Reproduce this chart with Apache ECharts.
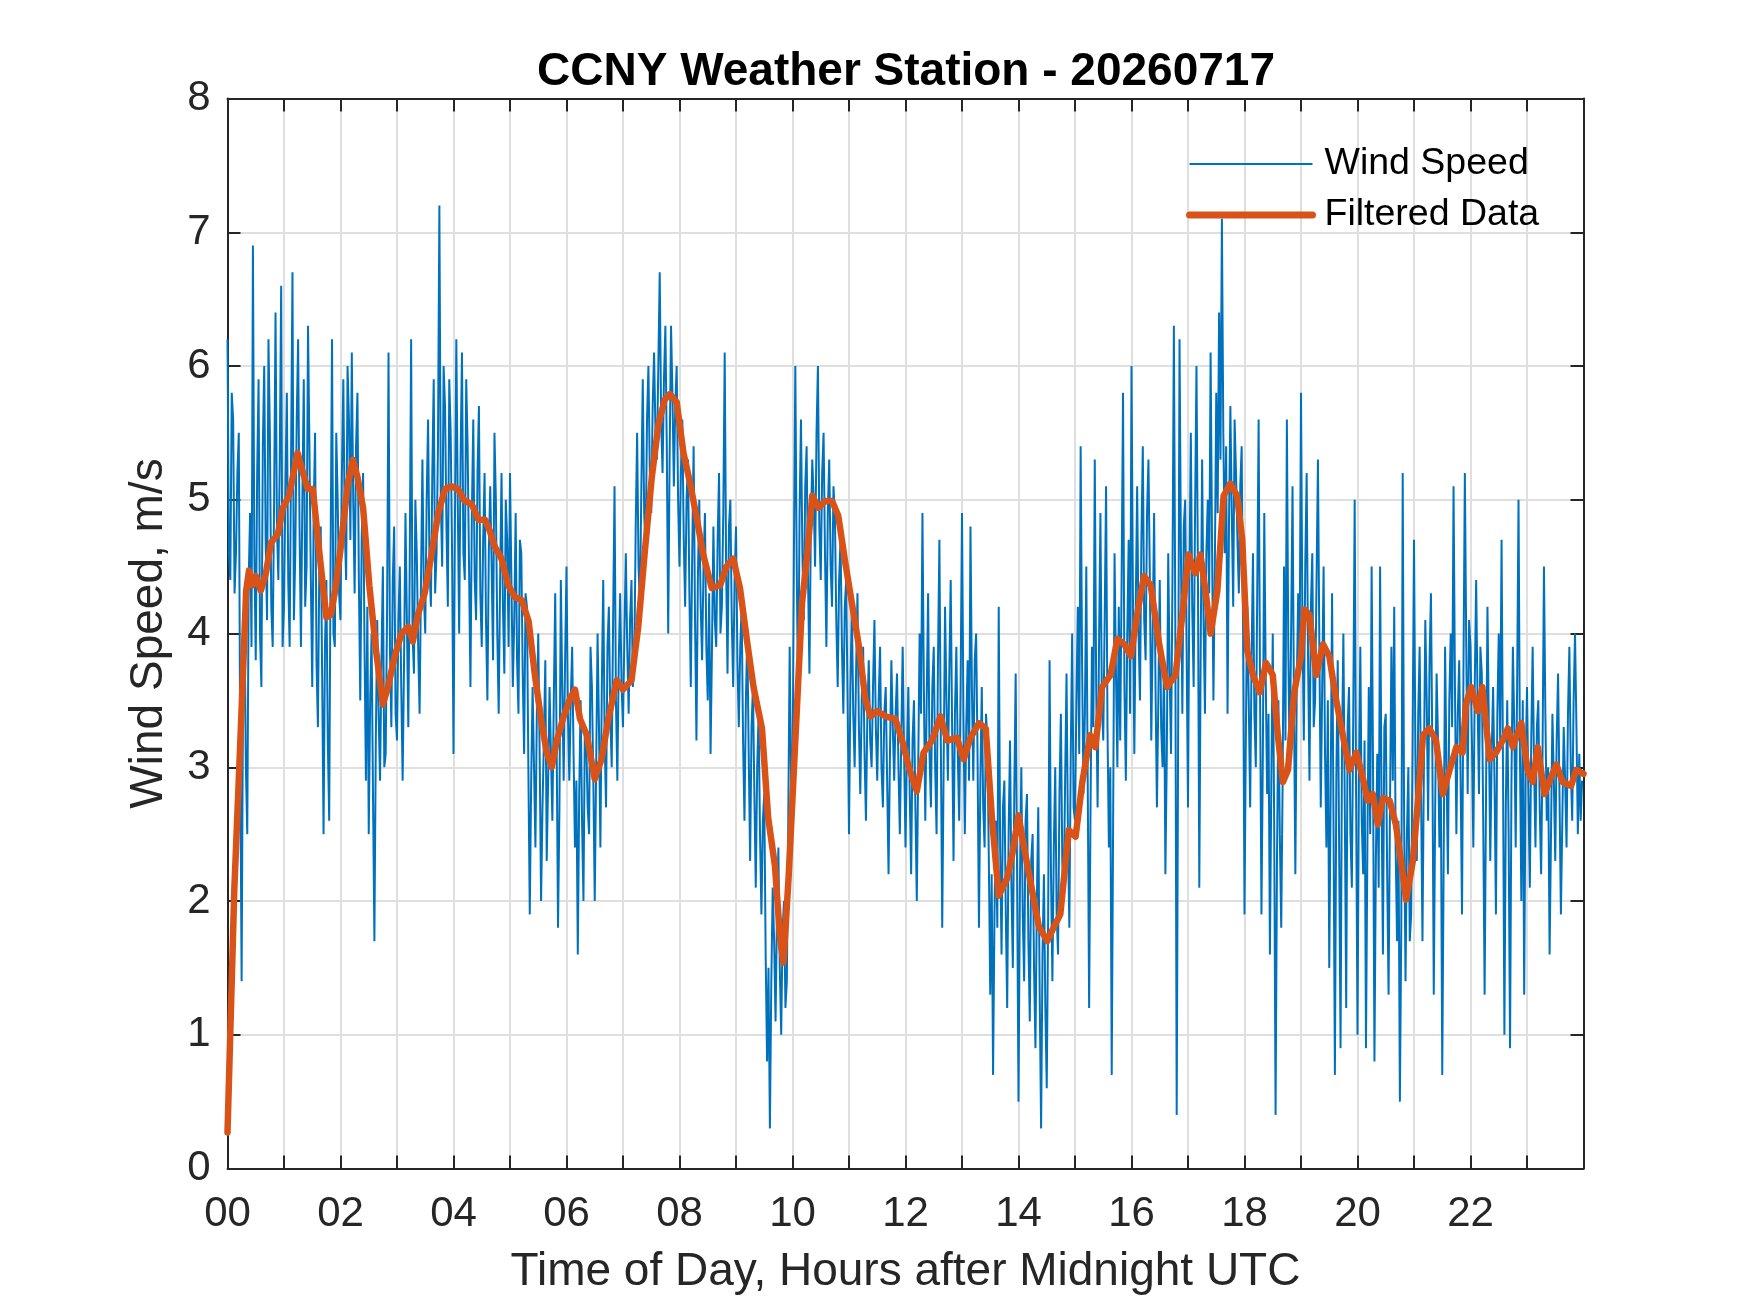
<!DOCTYPE html>
<html>
<head>
<meta charset="utf-8">
<title>CCNY Weather Station - 20260717</title>
<script src="https://cdn.jsdelivr.net/npm/echarts@6/dist/echarts.min.js"></script>
<style>
  html, body { margin: 0; padding: 0; background: #fff; }
  #chart { width: 1750px; height: 1313px; }
</style>
</head>
<body>
<div id="chart"></div>
<script>
// wind speed samples, m/s, one every 1.5 minutes (40 per hour, one row per hour)
var sampleStep = 0.025; // hours
var windSpeed = [
  6.2,4.6, 4.4,5.8, 5.6,4.3, 4.6,5.2, 5.5,3.1, 1.4,3.6, 4.2,3.0, 2.5,4.4, 4.9,3.9, 6.9,4.6, 3.8,5.2, 5.9,4.0, 3.6,5.4, 6.0,4.7, 4.1,6.2, 5.5,4.2, 3.9,5.0, 6.4,4.8, 4.4,5.3, 6.6,3.9,
  4.2,5.1, 5.8,4.4, 3.9,5.3, 6.7,4.1, 4.6,5.6, 6.2,4.8, 3.9,5.0, 5.9,4.2, 4.5,6.3, 5.4,4.4, 3.6,4.9, 5.5,3.8, 3.3,4.5, 4.8,3.7, 2.5,3.9, 4.4,3.2, 2.6,4.6, 6.2,4.0, 3.9,5.5, 5.0,4.3,
  4.1,5.2, 5.9,4.8, 4.4,6.0, 5.6,4.7, 6.1,5.0, 4.3,5.4, 5.8,4.4, 3.5,4.7, 5.2,3.9, 2.9,4.2, 2.5,3.5, 4.0,2.8, 1.7,3.2, 4.1,3.4, 2.9,3.8, 4.5,3.0, 3.1,4.2, 6.1,3.9, 3.3,4.4, 4.8,3.4,
  3.2,4.1, 4.5,3.6, 2.9,3.8, 4.9,4.1, 3.3,4.5, 6.2,4.0, 3.7,5.0, 4.6,3.9, 3.4,4.4, 5.3,4.3, 4.0,5.0, 5.6,4.5, 4.2,5.2, 5.9,4.3, 4.6,5.4, 7.2,5.0, 4.5,6.0, 5.7,4.8, 4.2,5.9, 5.5,4.6,
  3.1,4.8, 6.2,5.0, 4.0,5.3, 6.1,4.6, 4.4,5.9, 5.4,4.5, 3.6,4.9, 5.6,4.4, 4.1,5.2, 5.7,4.3, 3.9,4.7, 5.2,4.1, 3.5,4.6, 5.1,4.5, 3.8,5.5, 5.0,4.0, 3.4,4.4, 5.2,4.2, 3.7,5.0, 4.7,3.9,
  5.2,4.4, 3.6,4.1, 4.9,3.8, 3.4,4.7, 4.6,3.7, 3.1,4.3, 4.2,3.0, 1.9,2.9, 3.6,3.0, 2.4,3.4, 4.0,3.1, 2.0,2.7, 3.2,3.8, 2.3,2.9, 3.6,3.1, 2.6,3.5, 4.3,3.2, 1.8,2.7, 4.4,3.6, 2.9,3.8,
  4.5,3.4, 2.9,3.5, 3.9,3.1, 2.4,2.9, 1.6,2.8, 3.5,2.6, 2.0,3.3, 3.2,2.7, 2.5,3.9, 3.6,2.9, 2.0,3.0, 4.0,3.3, 2.4,3.6, 4.4,3.2, 2.7,3.9, 4.2,3.4, 3.0,4.1, 5.1,3.5, 2.9,3.8, 4.3,3.6,
  3.3,4.0, 4.6,3.9, 3.4,4.1, 4.4,3.6, 3.8,4.8, 5.5,4.5, 4.2,5.1, 5.9,4.9, 4.6,5.6, 6.0,5.2, 4.9,5.7, 6.1,5.5, 5.3,6.0, 6.7,5.6, 5.2,5.9, 6.3,5.4, 4.0,5.3, 6.3,5.8, 5.1,5.7, 6.0,5.0,
  4.5,5.2, 5.6,4.7, 4.2,5.0, 5.3,4.3, 3.6,4.6, 5.4,4.1, 3.2,4.4, 5.0,4.2, 3.8,4.5, 4.9,3.9, 3.5,4.3, 3.1,3.9, 4.8,4.1, 3.9,4.7, 5.2,4.0, 4.2,4.9, 6.1,4.5, 3.7,4.8, 5.0,4.1, 3.6,4.4,
  4.8,3.8, 3.3,3.9, 4.2,3.2, 2.6,3.5, 4.0,3.1, 2.3,3.3, 3.6,2.8, 2.1,3.0, 3.4,2.5, 1.9,2.6, 2.8,1.6, 0.8,1.5, 0.3,1.4, 2.1,1.7, 1.1,1.9, 2.4,1.5, 1.0,1.8, 2.0,1.2, 1.4,2.6, 3.9,2.9,
  2.8,4.6, 6.0,4.5, 3.4,4.9, 5.6,4.6, 4.1,5.1, 5.4,4.4, 3.7,4.8, 5.3,5.0, 4.5,5.5, 6.0,4.8, 4.4,5.2, 5.5,4.6, 3.9,4.9, 5.3,4.5, 4.2,5.1, 4.9,4.1, 3.6,4.4, 4.7,3.9, 3.4,4.2, 4.4,3.5,
  2.5,3.6, 4.2,3.4, 3.0,3.7, 4.3,3.3, 2.8,3.5, 3.9,3.1, 2.6,3.4, 3.8,3.2, 3.0,3.6, 4.1,3.3, 2.9,3.5, 3.9,3.0, 2.7,3.4, 3.6,2.9, 2.2,3.1, 3.8,3.3, 2.9,3.4, 3.7,3.0, 2.5,3.2, 3.9,3.1,
  2.4,3.1, 3.6,2.8, 2.2,3.2, 3.5,2.7, 2.0,3.0, 4.0,3.4, 4.9,3.6, 2.6,3.5, 4.3,3.1, 2.7,3.6, 3.9,3.0, 2.5,3.8, 4.7,3.2, 1.8,3.0, 4.2,3.5, 2.9,3.7, 4.4,3.3, 2.3,3.4, 3.9,3.1, 2.6,3.6,
  4.9,3.4, 2.5,3.3, 3.8,2.9, 4.8,3.6, 2.9,3.8, 4.0,3.1, 1.8,2.9, 3.6,2.7, 2.4,3.4, 3.2,2.3, 1.3,2.2, 0.7,1.9, 2.6,1.8, 4.2,2.4, 1.6,2.7, 2.9,1.9, 1.2,2.5, 3.2,2.1, 1.5,2.8, 3.7,2.2,
  0.5,2.1, 3.0,1.9, 1.4,2.6, 2.8,1.7, 1.1,2.3, 2.5,1.5, 0.9,2.0, 2.7,1.3, 0.3,1.6, 2.2,1.2, 0.6,1.9, 3.8,2.2, 1.4,2.4, 3.0,1.9, 1.6,2.8, 3.4,2.3, 2.0,2.9, 3.7,2.5, 1.8,3.1, 4.0,2.7,
  2.6,3.5, 4.2,3.1, 5.4,3.8, 2.8,3.4, 4.5,2.9, 1.2,2.7, 3.9,3.3, 5.3,3.6, 2.7,3.9, 4.9,3.5, 3.2,4.1, 5.1,3.3, 2.4,3.0, 0.7,2.6, 4.6,3.7, 3.0,4.2, 3.2,4.4, 5.8,3.6, 2.9,4.0, 4.7,3.4,
  6.0,4.3, 3.1,4.2, 5.1,4.0, 3.5,4.7, 5.4,4.1, 3.8,4.9, 5.3,4.4, 3.2,4.0, 4.9,3.6, 2.7,3.5, 4.4,3.3, 3.0,3.8, 2.2,3.1, 4.6,3.7, 3.1,4.4, 6.3,4.1, 0.4,3.2, 6.2,4.6, 3.4,4.8, 5.0,3.9,
  2.7,4.4, 5.5,4.2, 3.6,4.9, 6.0,4.5, 2.1,3.9, 5.3,4.1, 3.4,4.6, 5.0,4.3, 6.1,4.7, 3.5,4.5, 5.8,4.9, 6.4,5.3, 7.1,5.5, 4.6,5.4, 3.4,4.8, 5.7,4.9, 4.2,5.6, 5.2,4.7, 4.3,5.1, 5.4,4.0,
  1.9,3.3, 4.2,3.5, 2.7,3.8, 4.6,3.4, 3.0,4.3, 5.6,3.6, 1.9,3.1, 4.9,3.7, 2.8,3.4, 1.6,2.9, 4.0,2.6, 0.4,2.3, 3.5,2.5, 1.8,2.9, 4.5,3.2, 5.6,3.9, 3.0,4.0, 5.1,3.5, 2.2,3.6, 4.3,3.8,
  5.8,4.1, 3.2,4.5, 5.2,3.8, 2.9,4.2, 4.6,3.3, 3.5,4.4, 5.3,3.9, 2.7,3.6, 4.5,3.1, 2.4,3.5, 1.5,2.8, 4.3,2.6, 0.7,2.9, 3.8,2.4, 0.9,3.1, 4.0,2.7, 1.2,3.3, 3.6,2.5, 2.1,3.4, 5.0,2.8,
  1.0,2.9, 3.9,2.6, 2.2,3.2, 0.9,2.4, 3.6,2.5, 4.5,3.0, 0.8,2.3, 3.1,2.1, 4.5,2.8, 1.6,3.3, 3.4,2.2, 1.3,2.7, 3.9,2.9, 4.2,2.4, 1.7,2.6, 0.5,1.8, 5.2,2.6, 1.4,2.5, 3.0,1.7, 1.9,3.2,
  4.7,3.1, 2.3,3.4, 3.9,2.8, 1.7,3.0, 4.1,3.5, 2.6,3.8, 4.3,3.1, 1.3,2.7, 3.7,3.2, 2.4,2.9, 0.7,2.3, 3.9,3.0, 2.2,3.5, 4.0,3.3, 5.1,3.6, 2.5,3.4, 3.8,2.9, 1.9,3.7, 5.2,3.9, 2.8,4.1,
  3.9,3.2, 2.4,3.6, 4.4,3.5, 2.8,3.9, 3.7,2.6, 1.3,2.8, 4.2,3.3, 2.3,3.1, 3.6,2.9, 1.9,3.4, 4.0,3.2, 4.7,3.0, 1.0,2.7, 3.5,2.5, 0.9,2.9, 3.9,3.3, 2.4,3.6, 5.0,3.1, 2.0,3.5, 1.3,3.0,
  3.6,2.8, 2.1,3.2, 3.9,3.0, 2.4,3.3, 3.5,2.7, 2.2,3.1, 4.5,3.4, 2.6,3.0, 1.6,2.5, 3.4,2.9, 2.3,3.2, 3.7,2.8, 1.9,2.6, 3.3,2.9, 2.4,3.4, 3.9,3.0, 2.6,3.5, 4.0,3.3, 2.5,3.1, 2.6,2.9
];

// filtered (smoothed) curve at these hours
var filtHours = [
  0.00, 0.12, 0.24, 0.33, 0.38, 0.44, 0.50, 0.59, 0.68, 0.77, 0.89, 0.98,
  1.09, 1.24, 1.33, 1.42, 1.51, 1.63, 1.75, 1.83, 1.92,
  2.00, 2.13, 2.22, 2.30, 2.40, 2.51, 2.63, 2.75, 2.84, 2.96,
  3.08, 3.20, 3.28, 3.37, 3.49, 3.61, 3.73, 3.85, 3.96,
  4.08, 4.20, 4.32, 4.44, 4.56, 4.64, 4.73, 4.85, 4.97,
  5.09, 5.21, 5.33, 5.44, 5.56, 5.65, 5.74, 5.83, 5.95,
  6.07, 6.15, 6.24, 6.36, 6.50, 6.62, 6.74, 6.89,
  7.00, 7.15, 7.27, 7.39, 7.51, 7.63, 7.74, 7.83, 7.95,
  8.07, 8.19, 8.31, 8.42, 8.57, 8.72, 8.83, 8.95,
  9.07, 9.19, 9.31, 9.46, 9.57, 9.69, 9.78, 9.84, 9.93,
  10.05, 10.17, 10.26, 10.35, 10.46, 10.58, 10.70, 10.81, 10.93,
  11.05, 11.17, 11.29, 11.38, 11.50, 11.65, 11.82, 11.94,
  12.06, 12.20, 12.32, 12.47, 12.62, 12.74, 12.91,
  13.03, 13.15, 13.30, 13.42, 13.53, 13.65, 13.80, 13.89,
  14.00, 14.12, 14.24, 14.36, 14.51, 14.63, 14.74, 14.89,
  15.01, 15.13, 15.27, 15.36, 15.48, 15.63, 15.75, 15.87, 15.99,
  16.10, 16.22, 16.34, 16.49, 16.63, 16.78, 16.90,
  17.01, 17.13, 17.22, 17.31, 17.40, 17.52, 17.63, 17.75, 17.87, 17.96,
  18.05, 18.15, 18.27, 18.38, 18.50, 18.59, 18.68, 18.77, 18.88,
  19.00, 19.06, 19.15, 19.27, 19.39, 19.50, 19.62, 19.74, 19.86, 19.98,
  20.09, 20.18, 20.27, 20.36, 20.45, 20.57, 20.68, 20.77, 20.86, 20.98,
  21.07, 21.16, 21.27, 21.39, 21.51, 21.63, 21.75, 21.86, 21.92,
  22.01, 22.13, 22.21, 22.34, 22.45, 22.57, 22.66, 22.75, 22.90,
  23.01, 23.10, 23.19, 23.31, 23.43, 23.52, 23.63, 23.78, 23.87, 24.00
];
var filtValues = [
  0.27, 2.08, 3.33, 4.32, 4.47, 4.36, 4.43, 4.32, 4.45, 4.68, 4.74, 4.94,
  5.03, 5.35, 5.21, 5.08, 5.08, 4.59, 4.12, 4.14, 4.36,
  4.63, 5.12, 5.30, 5.17, 4.94, 4.36, 3.87, 3.47, 3.60, 3.83,
  4.00, 4.05, 3.94, 4.14, 4.30, 4.59, 4.90, 5.08, 5.10,
  5.08, 4.99, 4.97, 4.85, 4.85, 4.77, 4.65, 4.56, 4.36,
  4.27, 4.25, 4.09, 3.69, 3.33, 3.11, 3.00, 3.20, 3.38,
  3.52, 3.58, 3.36, 3.24, 2.91, 3.06, 3.36, 3.65,
  3.58, 3.65, 4.05, 4.63, 5.17, 5.57, 5.75, 5.79, 5.73,
  5.35, 5.12, 4.85, 4.59, 4.34, 4.36, 4.50, 4.56,
  4.34, 3.96, 3.60, 3.29, 2.62, 2.26, 1.72, 1.54, 2.17,
  3.20, 4.23, 4.59, 5.03, 4.94, 4.99, 4.99, 4.88, 4.54,
  4.23, 3.92, 3.51, 3.38, 3.42, 3.38, 3.36, 3.20,
  3.00, 2.82, 3.11, 3.20, 3.38, 3.20, 3.22,
  3.06, 3.22, 3.33, 3.29, 2.62, 2.04, 2.17, 2.35,
  2.64, 2.35, 2.08, 1.81, 1.70, 1.81, 1.90, 2.53,
  2.48, 2.89, 3.24, 3.15, 3.60, 3.69, 3.96, 3.92, 3.83,
  4.14, 4.43, 4.36, 3.92, 3.60, 3.69, 4.14,
  4.59, 4.45, 4.59, 4.32, 4.00, 4.32, 5.03, 5.12, 5.03, 4.70,
  3.87, 3.69, 3.56, 3.78, 3.69, 3.24, 2.89, 2.98, 3.56,
  3.83, 4.18, 4.14, 3.69, 3.92, 3.83, 3.51, 3.24, 2.98, 3.11,
  2.93, 2.75, 2.80, 2.57, 2.77, 2.75, 2.57, 2.30, 2.01, 2.30,
  2.75, 3.24, 3.29, 3.20, 2.80, 2.98, 3.15, 3.11, 3.47,
  3.60, 3.42, 3.60, 3.06, 3.11, 3.20, 3.29, 3.15, 3.33,
  2.98, 2.89, 3.15, 2.80, 2.93, 3.02, 2.89, 2.86, 2.98, 2.95
];

var yTicks = [0, 1, 2, 3, 4, 5, 6, 7, 8];

var windData = windSpeed.map(function (v, i) { return [i * sampleStep, v]; });
var filtData = filtValues.map(function (v, i) { return [filtHours[i], v]; });

var axisColor = '#262626';
var gridColor = '#dfdfdf';
var fontFamily = '"Liberation Sans", Arial, Helvetica, sans-serif';

// box axes: ticks point inward, no labels (top / right)
function boxAxis(extra) {
  var a = {
    type: 'value', interval: 1,
    axisLine: { show: true, onZero: false, lineStyle: { color: axisColor, width: 2 } },
    axisTick: { show: true, inside: true, length: 13, lineStyle: { color: axisColor, width: 2 } },
    axisLabel: { show: false },
    splitLine: { show: false }
  };
  for (var k in extra) a[k] = extra[k];
  return a;
}

var chart = echarts.init(document.getElementById('chart'));
var option = {
  animation: false,
  backgroundColor: '#ffffff',
  textStyle: { fontFamily: fontFamily },
  title: {
    text: 'CCNY Weather Station - 20260717',
    left: 901,
    top: 44,
    textAlign: 'center',
    textStyle: { fontFamily: fontFamily, fontSize: 46, fontWeight: 'bold', color: '#000' }
  },
  legend: {
    orient: 'vertical',
    left: 1181,
    top: 137,
    itemWidth: 123,
    itemHeight: 20,
    itemGap: 7,
    itemStyle: { opacity: 0 },
    textStyle: { fontFamily: fontFamily, fontSize: 37.5, color: '#000', lineHeight: 44, padding: [0, 0, 0, 7] },
    data: [
      { name: 'Wind Speed', lineStyle: { width: 2 } },
      { name: 'Filtered Data', lineStyle: { width: 7 } }
    ]
  },
  grid: { left: 227.5, top: 98.5, width: 1356, height: 1070, containLabel: false },
  xAxis: [
    {
      type: 'value', min: 0, max: 24, interval: 1,
      name: 'Time of Day, Hours after Midnight UTC',
      nameLocation: 'middle', nameGap: 81,
      nameTextStyle: { fontFamily: fontFamily, fontSize: 46, color: axisColor },
      axisLine: { show: true, onZero: false, lineStyle: { color: axisColor, width: 2 } },
      axisTick: { show: true, inside: true, length: 13, lineStyle: { color: axisColor, width: 2 } },
      axisLabel: {
        margin: 25, fontSize: 42, color: axisColor, fontFamily: fontFamily,
        formatter: function (v) { return (v % 2 === 0 && v < 24) ? (v < 10 ? '0' + v : '' + v) : ''; }
      },
      splitLine: { show: true, lineStyle: { color: gridColor, width: 2 } }
    },
    boxAxis({ position: 'top', min: 0, max: 24 })
  ],
  yAxis: [
    {
      type: 'value', min: yTicks[0], max: yTicks[yTicks.length - 1], interval: 1,
      name: 'Wind Speed, m/s',
      nameLocation: 'middle', nameGap: 55,
      nameTextStyle: { fontFamily: fontFamily, fontSize: 46, color: axisColor },
      axisLine: { show: true, onZero: false, lineStyle: { color: axisColor, width: 2 } },
      axisTick: { show: true, inside: true, length: 13, lineStyle: { color: axisColor, width: 2 } },
      axisLabel: { margin: 17, fontSize: 42, color: axisColor, fontFamily: fontFamily },
      splitLine: { show: true, lineStyle: { color: gridColor, width: 2 } }
    },
    boxAxis({ position: 'right', min: yTicks[0], max: yTicks[yTicks.length - 1] })
  ],
  series: [
    {
      name: 'Wind Speed', type: 'line', xAxisIndex: 0, yAxisIndex: 0,
      data: windData, symbol: 'none', showSymbol: false,
      lineStyle: { color: '#0072BD', width: 2 }, itemStyle: { color: '#0072BD' },
      z: 2
    },
    {
      name: 'Filtered Data', type: 'line', xAxisIndex: 0, yAxisIndex: 0,
      data: filtData, symbol: 'none', showSymbol: false,
      lineStyle: { color: '#D95319', width: 6.5, join: 'round', cap: 'round' }, itemStyle: { color: '#D95319' },
      z: 3
    }
  ]
};
chart.setOption(option);
</script>
</body>
</html>
